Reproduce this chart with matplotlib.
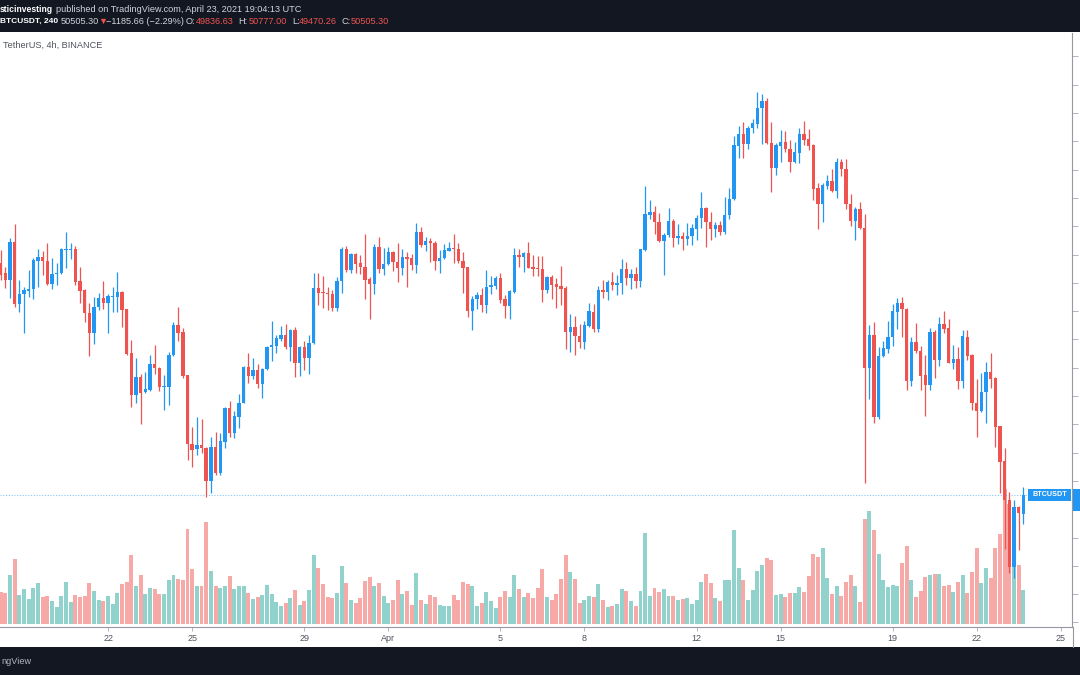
import numpy as np
import pandas as pd
import matplotlib
matplotlib.use("Agg")
import matplotlib.pyplot as plt
import matplotlib.dates as mdates
from matplotlib.patches import Rectangle
from matplotlib.transforms import blended_transform_factory

# BTCUSDT 4h candles, Binance, from 2021-03-18 04:00 UTC
start = "2021-03-18 04:00"

opens = [
    58693, 58339, 58104, 59458, 57255, 57609, 57727, 57786, 58787, 58928,
    58787, 57962, 58304, 58339, 59164, 59164, 59199, 58068, 57750, 56949,
    56219, 57138, 57479, 57303, 57503, 57515, 57691, 57067, 55512, 54051,
    54664, 54146, 54216, 55135, 54982, 54310, 54334, 55453, 56513, 56278,
    54735, 52296, 52119, 52273, 52178, 51012, 52190, 51295, 52390, 53568,
    52708, 53274, 53769, 55017, 54723, 54923, 54417, 54947, 55724, 55771,
    56019, 56160, 55748, 56337, 55182, 55748, 55335, 55865, 57809, 57691,
    57656, 57609, 57102, 58080, 59187, 58457, 59011, 58693, 58551, 58127,
    57962, 59258, 58481, 58669, 59081, 58752, 58516, 58905, 58869, 58634,
    59812, 59341, 59494, 59423, 58775, 58869, 59140, 59235, 59211, 58787,
    58551, 57020, 57432, 57574, 57220, 57844, 57903, 58163, 57420, 57185,
    57690, 58974, 58927, 59069, 58550, 58527, 58503, 57749, 58197, 57961,
    57879, 57832, 56277, 56430, 56135, 55912, 56489, 56984, 56371, 57749,
    57667, 58032, 57926, 57985, 58480, 58162, 58315, 58079, 59163, 60400,
    60518, 60164, 59481, 59693, 60199, 59575, 59658, 59566, 59639, 59919,
    60284, 60649, 60163, 59907, 60029, 59797, 60406, 60954, 62840, 63254,
    62901, 63461, 63631, 64166, 64410, 62950, 62049, 62840, 62962, 62743,
    62256, 62597, 63266, 63071, 62864, 61343, 60771, 61440, 61611, 61246,
    62256, 62037, 60795, 60188, 60612, 59941, 54981, 56159, 53273, 55417,
    55665, 56100, 56984, 57278, 57078, 54545, 55900, 55606, 54746, 54392,
    56254, 55276, 56536, 56395, 55182, 55299, 54545, 56100, 55453, 53768,
    53473, 54133, 54840, 54628, 52944, 51707, 50328, 47972, 50093, 49836.63,
]
highs = [
    59164, 58575, 59576, 60083, 58104, 57868, 58457, 58869, 59187, 59140,
    59423, 58869, 58716, 59223, 59812, 59423, 59305, 58551, 57780, 57279,
    57491, 57632, 58080, 57609, 57868, 58398, 57715, 57090, 55983, 55335,
    54782, 54864, 55453, 55807, 55041, 54746, 55571, 56631, 57161, 56396,
    54760, 52920, 53274, 53180, 52190, 52543, 52744, 52685, 53627, 53827,
    53486, 54075, 55064, 55536, 55335, 55135, 54982, 55771, 56666, 56160,
    56478, 56537, 56360, 56431, 55771, 55960, 56160, 58339, 58363, 58245,
    57868, 57750, 58221, 59282, 59305, 59070, 59046, 58987, 59729, 58221,
    59376, 59611, 59223, 59258, 59140, 59423, 59187, 59105, 59022, 60130,
    59988, 59611, 59576, 59494, 59164, 59376, 59458, 59729, 59399, 59081,
    58570, 57538, 57691, 57809, 58457, 58245, 58245, 58339, 57574, 57750,
    59222, 59186, 59104, 59457, 58986, 58951, 58951, 58244, 58279, 58162,
    58597, 57891, 56901, 56830, 56548, 56665, 57302, 57254, 57891, 58103,
    58103, 58397, 58279, 58833, 58751, 58480, 58550, 59210, 61425, 60930,
    60718, 60482, 59775, 60635, 60247, 60082, 59811, 60126, 60065, 60394,
    61221, 60674, 60515, 60150, 60187, 61039, 61343, 63193, 63558, 63680,
    63558, 63777, 64751, 64690, 64532, 63680, 62950, 63412, 63351, 63047,
    62986, 63473, 63716, 63436, 62901, 61526, 61526, 61806, 62012, 62414,
    62378, 62378, 61124, 60683, 60860, 60436, 56513, 56631, 55747, 55959,
    56666, 57255, 57455, 57490, 57102, 56077, 56572, 55771, 55453, 56418,
    56336, 56784, 57019, 56713, 55806, 55747, 56336, 56336, 55470, 54593,
    54828, 55217, 55511, 54687, 52960, 52154, 50623, 50328, 50110, 50777.00,
]
lows = [
    58104, 57809, 57456, 57138, 56985, 56219, 57515, 57432, 57868, 58280,
    57927, 57774, 57927, 58316, 58516, 58834, 57927, 57303, 56631, 55418,
    55842, 57043, 57067, 56242, 56985, 56985, 56454, 55453, 53627, 53769,
    53015, 54122, 54193, 54782, 54193, 53509, 53686, 55418, 55960, 54629,
    51742, 51507, 51919, 51978, 50447, 50564, 51212, 51212, 52155, 52543,
    52508, 52862, 53740, 54475, 54593, 54275, 53921, 54920, 55253, 55536,
    55960, 55653, 55253, 54664, 54711, 54923, 54782, 55842, 57220, 57102,
    57043, 57020, 57020, 57656, 58398, 58363, 58339, 58316, 57420, 56714,
    57609, 58363, 58280, 58634, 58433, 58045, 58280, 57868, 58457, 58363,
    59258, 59140, 58752, 58457, 58339, 58834, 59117, 58693, 58716, 57632,
    56808, 56337, 57067, 56985, 56949, 57609, 57774, 57279, 56749, 56714,
    57631, 58550, 58397, 58515, 58244, 58244, 57337, 57655, 57419, 57101,
    57219, 55652, 55570, 55440, 55688, 55652, 56453, 56277, 56277, 57478,
    57396, 57749, 57573, 57608, 57926, 57785, 57808, 57843, 59140, 60247,
    59728, 59457, 58279, 59634, 59257, 59375, 59163, 59335, 59335, 59518,
    59944, 59274, 59518, 59615, 59700, 59737, 60248, 60930, 62402, 62414,
    62743, 63290, 63473, 62925, 62925, 61197, 61806, 62256, 62621, 61927,
    62219, 62219, 62864, 62682, 60917, 59907, 60150, 61319, 61221, 61002,
    61769, 60613, 60004, 59517, 59905, 50940, 53886, 53038, 53179, 55394,
    55511, 55771, 56360, 56077, 54216, 54357, 55511, 54216, 53297, 54216,
    54628, 55064, 56242, 55158, 54946, 54239, 54275, 55276, 53509, 52543,
    53450, 53061, 54275, 52213, 50564, 48585, 47737, 47560, 48561, 49470.26,
]
closes = [
    58280, 58104, 59458, 57255, 57609, 57750, 57786, 58810, 58928, 58787,
    57950, 58316, 58363, 59187, 59199, 59199, 58045, 57727, 56926, 56219,
    57138, 57479, 57303, 57538, 57538, 57691, 57043, 55488, 54051, 54664,
    54122, 54252, 55135, 54982, 54310, 54369, 55453, 56513, 56242, 54711,
    52296, 52096, 52273, 52155, 51012, 52190, 51295, 52426, 53568, 52708,
    53297, 53769, 55017, 54723, 54923, 54417, 54958, 55748, 55807, 56042,
    56160, 55748, 56337, 55182, 55748, 55335, 55865, 57809, 57656, 57632,
    57597, 57102, 58080, 59187, 58457, 59011, 58669, 58551, 58104, 57962,
    59258, 58481, 58669, 59081, 58752, 58516, 58905, 58857, 58634, 59812,
    59341, 59494, 59399, 58775, 58893, 59164, 59235, 59187, 58775, 58539,
    57020, 57444, 57574, 57220, 57868, 57927, 58163, 57397, 57185, 57715,
    58986, 58927, 59069, 58538, 58491, 58480, 57749, 58197, 57926, 57843,
    57796, 56277, 56430, 56124, 55912, 56512, 57007, 56371, 57749, 57667,
    58032, 57926, 57997, 58480, 58162, 58315, 58079, 59186, 60423, 60518,
    60164, 59481, 59693, 60199, 59575, 59658, 59563, 59664, 59944, 60309,
    60649, 60163, 59907, 60029, 59797, 60406, 60954, 62864, 63254, 62901,
    63473, 63655, 64179, 64410, 62950, 62049, 62864, 62962, 62743, 62256,
    62621, 63266, 63047, 62840, 61319, 60771, 61465, 61611, 61246, 62256,
    62012, 60795, 60187, 60612, 59941, 54983, 56159, 53273, 55417, 55688,
    56100, 57008, 57278, 57078, 54545, 55900, 55606, 54722, 54392, 56254,
    55276, 56536, 56371, 55182, 55299, 54545, 56136, 55429, 53768, 53473,
    54133, 54840, 54604, 52920, 51683, 50328, 47972, 50093, 49857, 50505.30,
]
# volume, relative units
volumes = [
    32, 31, 49, 65, 29, 35, 25, 36, 41, 27, 28, 23, 17, 28, 42, 22, 29, 27, 28, 41,
    33, 24, 23, 28, 20, 31, 40, 42, 69, 38, 49, 30, 36, 35, 30, 30, 44, 49, 45, 44,
    95, 55, 38, 38, 102, 53, 38, 36, 38, 48, 35, 38, 38, 31, 25, 27, 29, 39, 30, 22,
    18, 21, 26, 34, 19, 23, 34, 69, 56, 40, 27, 26, 31, 58, 41, 24, 21, 26, 43, 47,
    38, 41, 28, 21, 24, 44, 30, 33, 19, 51, 24, 20, 29, 27, 19, 18, 18, 29, 24, 42,
    40, 38, 18, 21, 32, 23, 16, 27, 33, 27, 49, 35, 27, 31, 26, 36, 55, 27, 24, 30,
    45, 69, 52, 45, 21, 24, 28, 27, 40, 24, 17, 18, 20, 35, 33, 23, 18, 33, 91, 28,
    36, 32, 35, 28, 28, 24, 25, 26, 20, 24, 42, 50, 41, 26, 23, 44, 44, 94, 56, 44,
    24, 34, 53, 59, 66, 64, 29, 30, 27, 31, 31, 37, 32, 48, 70, 67, 76, 46, 30, 38,
    28, 42, 49, 38, 22, 105, 113, 94, 70, 44, 37, 39, 38, 61, 78, 44, 27, 33, 47, 49,
    50, 50, 38, 39, 32, 42, 49, 31, 52, 76, 41, 56, 46, 76, 90, 135, 120, 60, 59, 34,
]

tick_dates = ["2021-03-22", "2021-03-25", "2021-03-29", "2021-04-01", "2021-04-05",
              "2021-04-08", "2021-04-12", "2021-04-15", "2021-04-19", "2021-04-22",
              "2021-04-25"]
tick_labels = ["22", "25", "29", "Apr", "5", "8", "12", "15", "19", "22", "25"]

UP = "#2196f3"
DOWN = "#ef5350"
VOL_UP = "#92d2cc"
VOL_DOWN = "#f7a9a7"
DARK = "#131722"

o = np.array(opens)
h = np.array(highs)
l = np.array(lows)
c = np.array(closes)
v = np.array(volumes)
times = pd.date_range(start, periods=len(o), freq="4h")
x = mdates.date2num(times.to_pydatetime())
step = 4 / 24
up = c >= o

W, H = 1080, 675
fig = plt.figure(figsize=(W / 100, H / 100), dpi=100)
fig.patch.set_facecolor("white")
rect = [0, 48 / H, 1072 / W, 594 / H]

# volume pane (behind)
axv = fig.add_axes(rect)
axv.bar(x, v, width=step * 0.85, color=np.where(up, VOL_UP, VOL_DOWN), zorder=1)
axv.set_ylim(-3, 591)
axv.axis("off")

# price pane
ax = fig.add_axes(rect, sharex=axv)
ax.patch.set_visible(False)
ax.vlines(x, l, h, colors=np.where(up, UP, DOWN), linewidth=0.9, zorder=2)
body = np.maximum(np.abs(c - o), 30)
ax.bar(x, body, bottom=np.minimum(o, c), width=step * 0.72,
       color=np.where(up, UP, DOWN), linewidth=0, zorder=3)

ax.set_xlim(x[0] - 0.15 * step, x[0] + 229.4 * step)
ax.set_ylim(45840, 66830)

last = closes[-1]
ax.axhline(last, color=UP, linestyle=(0, (1, 1.5)), linewidth=0.8, alpha=0.55, zorder=1)

tx = mdates.date2num(pd.to_datetime(tick_dates).to_pydatetime())
ax.set_xticks(tx)
ax.set_xticklabels(tick_labels)
ax.set_yticks(np.arange(46000, 67000, 1000))
ax.yaxis.tick_right()
ax.tick_params(axis="y", right=True, left=False, labelright=False,
               length=4, width=0.7, color="#b2b5be")
ax.tick_params(axis="x", length=3, width=0.7, color="#b2b5be", pad=2,
               labelsize=6.5, labelcolor="#50535e")
for lab in ax.get_xticklabels():
    lab.set_family("Liberation Sans")
for s in ("top", "left"):
    ax.spines[s].set_visible(False)
for s in ("bottom", "right"):
    ax.spines[s].set_color("#9598a1")
    ax.spines[s].set_linewidth(0.8)

# series label on the last price
tr = blended_transform_factory(ax.transAxes, ax.transData)
ax.add_patch(Rectangle((1028 / 1072, last - 230), 43 / 1072, 440, transform=tr,
                       facecolor=UP, edgecolor="none", zorder=5, clip_on=False))
ax.text(1049.5 / 1072, last, "BTCUSDT", transform=tr, ha="center", va="center",
        color="white", fontsize=5.2, fontweight="bold", family="Liberation Sans",
        zorder=6)
ax.add_patch(Rectangle((1073 / 1072, last - 560), 10 / 1072, 780, transform=tr,
                       facecolor=UP, edgecolor="none", zorder=5, clip_on=False))


def fx(px):
    return px / W


def fy(py):
    return 1 - py / H


# top and bottom bars
fig.patches.append(Rectangle((0, fy(32)), 1, 32 / H, transform=fig.transFigure,
                             facecolor=DARK, edgecolor="none", zorder=0))
fig.patches.append(Rectangle((0, 0), 1, 28 / H, transform=fig.transFigure,
                             facecolor=DARK, edgecolor="none", zorder=0))
fig.add_artist(plt.Line2D([fx(1072.5), fx(1072.5)], [fy(627), fy(647)],
                          color="#9598a1", linewidth=0.8))

fam = ["Liberation Sans", "DejaVu Sans"]
LIGHT = "#d1d4dc"
fs = 6.6


def put(px, py, s, color=LIGHT, weight="normal", size=fs):
    fig.text(fx(px), fy(py), s, color=color, fontsize=size, fontweight=weight,
             family=fam, ha="left", va="center")


put(0, 9, "sticinvesting", color="white", weight="bold", size=6.2)
put(56, 9, "published on TradingView.com, April 23, 2021 19:04:13 UTC")
put(0, 21.5, "BTCUSDT, 240", color="white", weight="bold", size=6.0)
put(61, 21.5, "50505.30")
put(98, 21.5, "\u25bc", color=DOWN)
put(106, 21.5, "\u22121185.66 (\u22122.29%)")
put(186, 21.5, "O:")
put(196, 21.5, "49836.63", color=DOWN)
put(238, 21.5, "H:")
put(249, 21.5, "50777.00", color=DOWN)
put(292, 21.5, "L:")
put(299, 21.5, "49470.26", color=DOWN)
put(341, 21.5, "C:")
put(351, 21.5, "50505.30", color=DOWN)
put(3, 45, "TetherUS, 4h, BINANCE", color="#50535e")
put(1, 661, "ngView", color="#b2b5be")

fig.savefig("out.png", dpi=100)
